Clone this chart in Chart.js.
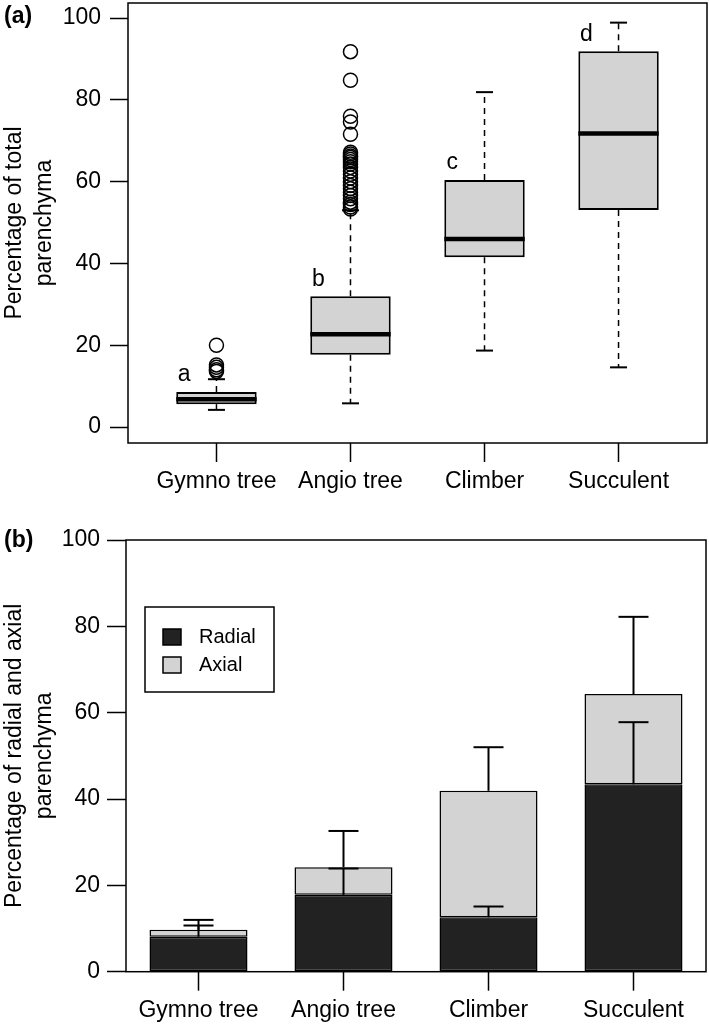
<!DOCTYPE html>
<html>
<head>
<meta charset="utf-8">
<script src="https://cdn.jsdelivr.net/npm/chart.js@4.4.1/dist/chart.umd.min.js"></script>
<style>
    body { margin: 0; background: #fff; }
    #page { position: relative; width: 709px; height: 1035px; }
    canvas { position: absolute; left: 0; }
    #boxCanvas { top: 0; }
    #barCanvas { top: 500px; }
    .panel { position: absolute; left: 4px; font: bold 23px "Liberation Sans", Arial, sans-serif; line-height: 23px; color: #000; }
</style>
</head>
<body>
<div id="page">
    <canvas id="boxCanvas" width="709" height="500"></canvas>
    <canvas id="barCanvas" width="709" height="535"></canvas>
    <div class="panel" style="top:4px">(a)</div>
    <div class="panel" style="top:528px">(b)</div>
</div>
<script>
// shared
const categories = ['Gymno tree', 'Angio tree', 'Climber', 'Succulent'];
const yTicks = [0, 20, 40, 60, 80, 100];

// (a) box plot values
const boxLow = [4.2, 5.8, 18.7, 14.6];      // lower whisker
const boxQ1 = [5.6, 17.7, 41.5, 53.1];
const boxMedian = [6.8, 22.7, 46.0, 71.8];
const boxQ3 = [8.6, 32.0, 60.4, 91.9];
const boxHigh = [11.7, 53.0, 81.9, 98.9];   // upper whisker
const groupLetters = ['a', 'b', 'c', 'd'];
const gymnoOutliers = [20.0, 15.2, 14.6, 14.0, 13.6];
const angioOutliers = [91.8, 84.8, 76.0, 74.6, 71.6, 67.2, 66.8, 66.3, 65.9, 65.4, 64.9, 64.3,
    63.5, 62.6, 61.8, 60.9, 60.0, 59.1, 58.3, 57.4, 56.6, 55.8, 55.0, 54.4, 53.8, 53.3];

// (b) stacked bars
const radialMean = [8.1, 17.8, 12.6, 43.4];
const axialMean = [1.6, 6.4, 29.3, 20.9];
const radialErr = [2.6, 6.1, 2.5, 14.4];
const totalErr = [2.3, 8.4, 10.1, 17.9];

const FONT = '"Liberation Sans", Arial, Helvetica, sans-serif';
Chart.defaults.font.family = FONT;
Chart.defaults.color = '#000';

function line(ctx, x1, y1, x2, y2) {
    ctx.beginPath();
    ctx.moveTo(x1, y1);
    ctx.lineTo(x2, y2);
    ctx.stroke();
}

// fixed axis sizes, no extra room for overhanging labels
function fixWidth(w) {
    return s => { s.width = w; s.paddingTop = 0; s.paddingBottom = 0; };
}
function fixHeight(h) {
    return s => { s.height = h; s.paddingLeft = 0; s.paddingRight = 0; };
}

const frame = {
    id: 'frame',
    afterDraw(chart) {
        const { ctx, chartArea: a } = chart;
        ctx.save();
        ctx.strokeStyle = '#000';
        ctx.lineWidth = 1.5;
        ctx.strokeRect(a.left, a.top, a.right - a.left, a.bottom - a.top);
        ctx.restore();
    }
};

// whiskers, medians and group letters
const boxExtras = {
    id: 'boxExtras',
    afterDatasetsDraw(chart) {
        const { ctx, scales: { x, y } } = chart;
        const bars = chart.getDatasetMeta(0).data;
        ctx.save();
        ctx.strokeStyle = '#000';
        categories.forEach((c, i) => {
            const cx = x.getPixelForValue(i + 1);
            const half = bars[i].width / 2;
            ctx.lineWidth = 1.5;
            ctx.setLineDash([6, 5]);
            line(ctx, cx, y.getPixelForValue(boxQ3[i]), cx, y.getPixelForValue(boxHigh[i]));
            line(ctx, cx, y.getPixelForValue(boxQ1[i]), cx, y.getPixelForValue(boxLow[i]));
            ctx.setLineDash([]);
            ctx.lineWidth = 2;
            line(ctx, cx - 8.5, y.getPixelForValue(boxHigh[i]), cx + 8.5, y.getPixelForValue(boxHigh[i]));
            line(ctx, cx - 8.5, y.getPixelForValue(boxLow[i]), cx + 8.5, y.getPixelForValue(boxLow[i]));
            ctx.lineWidth = 4.5;
            line(ctx, cx - half, y.getPixelForValue(boxMedian[i]), cx + half, y.getPixelForValue(boxMedian[i]));

            ctx.fillStyle = '#000';
            ctx.font = '23px ' + FONT;
            ctx.textAlign = 'center';
            ctx.textBaseline = 'middle';
            ctx.fillText(groupLetters[i], cx - half + 8, y.getPixelForValue(boxQ3[i]) - 17);
        });
        ctx.restore();
    }
};

new Chart(document.getElementById('boxCanvas'), {
    type: 'bar',
    data: {
        datasets: [{
            label: 'box',
            data: categories.map((c, i) => ({ x: i + 1, y: [boxQ1[i], boxQ3[i]] })),
            backgroundColor: '#d3d3d3',
            borderColor: '#000',
            borderWidth: 2,
            borderSkipped: false,
            categoryPercentage: 0.8,
            barPercentage: 0.75
        }, {
            type: 'scatter',
            label: 'outliers',
            data: gymnoOutliers.map(v => ({ x: 1, y: v }))
                .concat(angioOutliers.map(v => ({ x: 2, y: v }))),
            pointStyle: 'circle',
            pointRadius: 7,
            pointBorderWidth: 1.5,
            pointBackgroundColor: 'rgba(0,0,0,0)',
            pointBorderColor: '#000'
        }]
    },
    options: {
        responsive: false,
        animation: false,
        layout: { autoPadding: false, padding: { top: 3, right: 2, left: 0, bottom: 0 } },
        plugins: { legend: { display: false }, tooltip: { enabled: false } },
        scales: {
            x: {
                type: 'linear',
                offset: false,
                min: 0.34,
                max: 4.66,
                afterBuildTicks: s => { s.ticks = categories.map((c, i) => ({ value: i + 1 })); },
                afterFit: fixHeight(57),
                ticks: {
                    callback: v => categories[v - 1],
                    autoSkip: false,
                    maxRotation: 0,
                    padding: 6,
                    font: { size: 23 }
                },
                grid: { offset: false, drawOnChartArea: false, tickLength: 19, tickColor: '#000', tickWidth: 1.5 },
                border: { display: false }
            },
            y: {
                min: -3.9,
                max: 103.7,
                afterBuildTicks: s => { s.ticks = yTicks.map(v => ({ value: v })); },
                afterFit: fixWidth(128),
                ticks: { padding: 9, font: { size: 23 } },
                grid: { drawOnChartArea: false, tickLength: 18, tickColor: '#000', tickWidth: 1.5 },
                border: { display: false },
                title: {
                    display: true,
                    text: ['Percentage of total', 'parenchyma'],
                    font: { size: 23, lineHeight: 1.3 },
                    padding: { top: 0, bottom: 0 }
                }
            }
        }
    },
    plugins: [boxExtras, frame]
});

// error bars and inset legend for (b)
const barExtras = {
    id: 'barExtras',
    afterDatasetsDraw(chart) {
        const { ctx, scales: { x, y }, chartArea: a } = chart;
        ctx.save();
        ctx.strokeStyle = '#000';
        ctx.lineWidth = 2;
        categories.forEach((c, i) => {
            const cx = x.getPixelForValue(i);
            const total = radialMean[i] + axialMean[i];
            [[radialMean[i], radialErr[i]], [total, totalErr[i]]].forEach(([base, err]) => {
                const y0 = y.getPixelForValue(base);
                const y1 = y.getPixelForValue(base + err);
                line(ctx, cx, y0, cx, y1);
                line(ctx, cx - 15, y1, cx + 15, y1);
            });
        });

        // legend box
        const lx = a.left + 19, ly = a.top + 67;
        ctx.lineWidth = 1.5;
        ctx.strokeRect(lx, ly, 129, 85);
        ctx.font = '20px ' + FONT;
        ctx.textAlign = 'left';
        ctx.textBaseline = 'middle';
        chart.data.datasets.forEach((ds, k) => {
            const ry = ly + 30 + k * 28;
            ctx.fillStyle = ds.backgroundColor;
            ctx.fillRect(lx + 18, ry - 8, 18, 16);
            ctx.strokeRect(lx + 18, ry - 8, 18, 16);
            ctx.fillStyle = '#000';
            ctx.fillText(ds.label, lx + 54, ry);
        });
        ctx.restore();
    }
};

new Chart(document.getElementById('barCanvas'), {
    type: 'bar',
    data: {
        labels: categories,
        datasets: [{
            label: 'Radial',
            data: radialMean,
            backgroundColor: '#222222',
            borderColor: '#000',
            borderWidth: 1.5,
            borderSkipped: false
        }, {
            label: 'Axial',
            data: axialMean,
            backgroundColor: '#d3d3d3',
            borderColor: '#000',
            borderWidth: 1.5,
            borderSkipped: false
        }]
    },
    options: {
        responsive: false,
        animation: false,
        categoryPercentage: 1.0,
        barPercentage: 0.676,
        layout: { autoPadding: false, padding: { top: 40, right: 3, left: 0, bottom: 0 } },
        plugins: { legend: { display: false }, tooltip: { enabled: false } },
        scales: {
            x: {
                stacked: true,
                afterFit: fixHeight(63.3),
                ticks: { autoSkip: false, maxRotation: 0, padding: 6, font: { size: 23 } },
                grid: { offset: false, drawOnChartArea: false, tickLength: 19, tickColor: '#000', tickWidth: 1.5 },
                border: { display: false }
            },
            y: {
                stacked: true,
                min: 0,
                max: 100,
                afterBuildTicks: s => { s.ticks = yTicks.map(v => ({ value: v })); },
                afterFit: fixWidth(126),
                ticks: { padding: 7, font: { size: 23 } },
                grid: { drawOnChartArea: false, tickLength: 19, tickColor: '#000', tickWidth: 1.5 },
                border: { display: false },
                title: {
                    display: true,
                    text: ['Percentage of radial and axial', 'parenchyma'],
                    font: { size: 23, lineHeight: 1.3 },
                    padding: { top: 0, bottom: 0 }
                }
            }
        }
    },
    plugins: [barExtras, frame]
});
</script>
</body>
</html>
